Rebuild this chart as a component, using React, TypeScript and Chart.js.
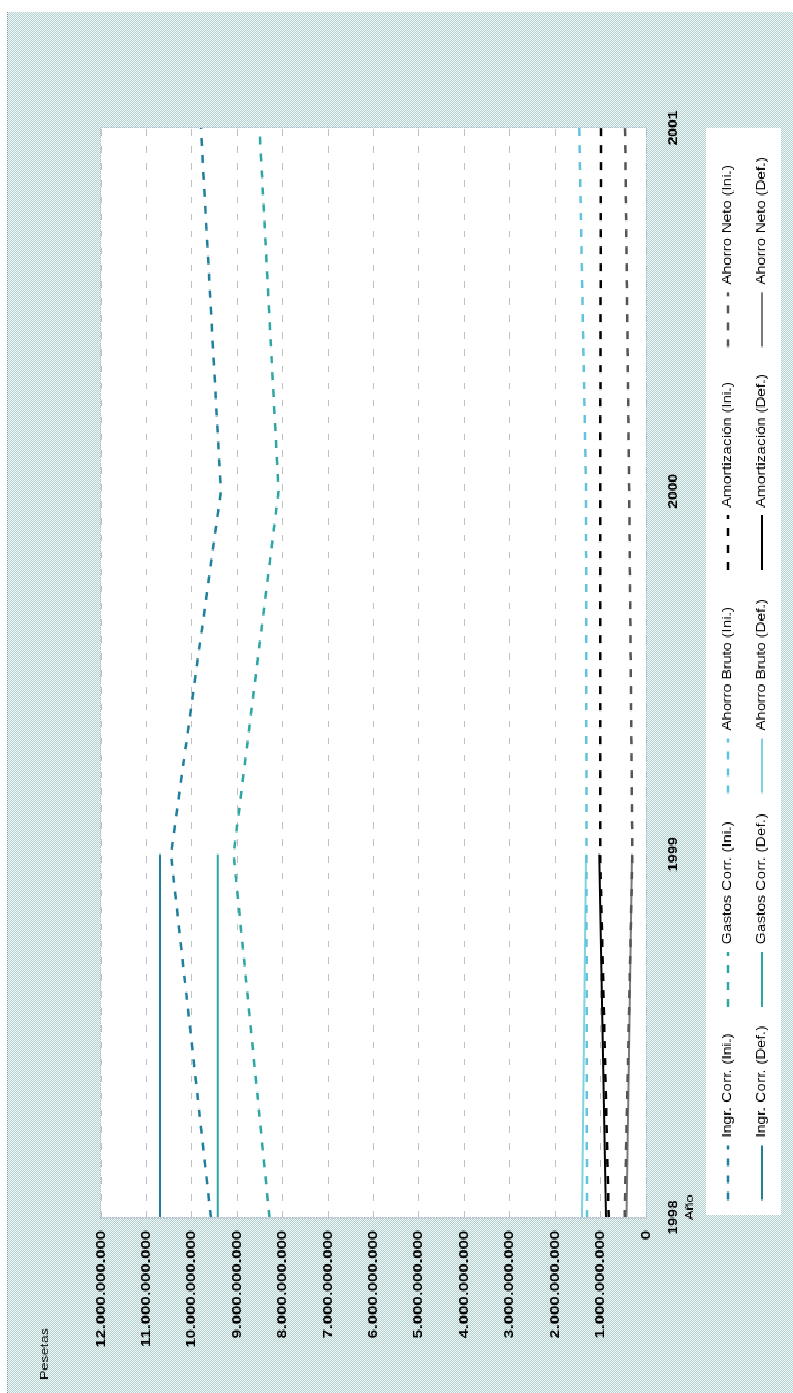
import React, { useEffect, useRef } from 'react';
import { Chart, registerables } from 'chart.js';

Chart.register(...registerables);

// ---------------- data ----------------
const years = ['1998', '1999', '2000', '2001'];

const ingrCorrIni = [9580000000, 10460000000, 9360000000, 9800000000];
const gastosCorrIni = [8290000000, 9080000000, 8090000000, 8510000000];
const ahorroBrutoIni = [1300000000, 1310000000, 1320000000, 1470000000];
const amortizacionIni = [820000000, 1010000000, 1010000000, 990000000];
const ahorroNetoIni = [470000000, 300000000, 370000000, 460000000];

const ingrCorrDef = [10700000000, 10700000000, null, null];
const gastosCorrDef = [9430000000, 9430000000, null, null];
const ahorroBrutoDef = [1410000000, 1320000000, null, null];
const amortizacionDef = [880000000, 1030000000, null, null];
const ahorroNetoDef = [430000000, 310000000, null, null];

const labelsIni = ['Ingr. Corr. (Ini.)', 'Gastos Corr. (Ini.)', 'Ahorro Bruto (Ini.)', 'Amortización (Ini.)', 'Ahorro Neto (Ini.)'];
const labelsDef = ['Ingr. Corr. (Def.)', 'Gastos Corr. (Def.)', 'Ahorro Bruto (Def.)', 'Amortización (Def.)', 'Ahorro Neto (Def.)'];

const yMin = 0;
const yMax = 12000000000;
const yStep = 1000000000;

const yTitle = 'Pesetas';
const xTitle = 'Año';

// ---------------- style ----------------
const colorsIni = ['#1f7f9c', '#2ea6a6', '#62c4dc', '#000000', '#555555'];
const colorsDef = ['#1f7f9c', '#2ea6a6', '#7fd3e0', '#000000', '#7a7a7a'];

const K = 1.3; // horizontal stretch of the original picture
const FRAME_W = 786; // screen width of frame (original chart height)
const FRAME_H = 1381; // screen height of frame (original chart width)
const CW = Math.round(FRAME_H / K);
const CH = FRAME_W;
const FONT = '"Liberation Sans", Arial, sans-serif';
const DASH = [6, 7];
const legendCols = [13.5, 162, 326.5, 498, 669.6];

const HATCH =
  "url(\"data:image/svg+xml,%3Csvg xmlns='http://www.w3.org/2000/svg' width='2' height='2' shape-rendering='crispEdges'%3E%3Crect width='2' height='2' fill='%23dcffff'/%3E%3Crect width='1' height='1' fill='%23c8c8c8'/%3E%3Crect x='1' y='1' width='1' height='1' fill='%23c8c8c8'/%3E%3C/svg%3E\")";

const fmt = (v: number) => String(Math.round(v)).replace(/\B(?=(\d{3})+(?!\d))/g, '.');

const decorPlugin = {
  id: 'decor',
  beforeDraw(chart: any) {
    const { ctx, chartArea: a } = chart;
    ctx.save();
    ctx.fillStyle = '#ffffff';
    ctx.fillRect(a.left, a.top, a.right - a.left, a.bottom - a.top);
    ctx.fillRect(a.left + 2, a.bottom + 60, a.right - a.left - 2, 75);
    ctx.restore();
  },
  afterDraw(chart: any) {
    const { ctx, chartArea: a } = chart;
    ctx.save();
    // dotted frame of plot area
    ctx.strokeStyle = '#a8a8c8';
    ctx.lineWidth = 1;
    ctx.setLineDash([1, 2]);
    ctx.strokeRect(a.left - 0.5, a.top - 0.5, a.right - a.left + 1, a.bottom - a.top + 1);
    // legend
    const ds = chart.data.datasets;
    ctx.font = `12px ${FONT}`;
    ctx.textBaseline = 'middle';
    ctx.textAlign = 'left';
    for (let i = 0; i < ds.length; i++) {
      const col = i % 5;
      const row = Math.floor(i / 5);
      const x = a.left + legendCols[col];
      const y = a.bottom + 82 + row * 34;
      ctx.strokeStyle = ds[i].borderColor;
      ctx.lineWidth = ds[i].borderWidth;
      ctx.setLineDash(ds[i].borderDash || []);
      ctx.beginPath();
      ctx.moveTo(x, y);
      ctx.lineTo(x + 42, y);
      ctx.stroke();
      ctx.fillStyle = '#000';
      ctx.fillText(ds[i].label, x + 48, y);
    }
    ctx.setLineDash([]);
    ctx.fillStyle = '#000';
    ctx.font = `11px ${FONT}`;
    ctx.textBaseline = 'middle';
    ctx.fillText(yTitle, 10, 38);
    ctx.fillText(xTitle, a.left - 2, a.bottom + 44);
    ctx.restore();
  },
};

export default function App() {
  const ref = useRef<HTMLCanvasElement | null>(null);

  useEffect(() => {
    if (!ref.current) return;
    const iniSets = [ingrCorrIni, gastosCorrIni, ahorroBrutoIni, amortizacionIni, ahorroNetoIni];
    const defSets = [ingrCorrDef, gastosCorrDef, ahorroBrutoDef, amortizacionDef, ahorroNetoDef];
    const datasets: any[] = [];
    iniSets.forEach((d, i) =>
      datasets.push({
        label: labelsIni[i],
        data: d,
        borderColor: colorsIni[i],
        backgroundColor: colorsIni[i],
        borderWidth: 2.5,
        borderDash: DASH,
        pointRadius: 0,
        fill: false,
      })
    );
    defSets.forEach((d, i) =>
      datasets.push({
        label: labelsDef[i],
        data: d,
        borderColor: colorsDef[i],
        backgroundColor: colorsDef[i],
        borderWidth: 2,
        pointRadius: 0,
        fill: false,
      })
    );

    const chart = new Chart(ref.current, {
      type: 'line',
      data: { labels: years, datasets },
      options: {
        responsive: false,
        animation: false,
        devicePixelRatio: 1,
        layout: { padding: { left: 10, right: 89, top: 94, bottom: 107 } },
        elements: { line: { tension: 0 }, point: { radius: 0 } },
        plugins: { legend: { display: false }, tooltip: { enabled: false }, title: { display: false } },
        scales: {
          x: {
            type: 'category',
            offset: false,
            grid: { display: false, drawTicks: false },
            border: { display: false },
            ticks: {
              padding: 20,
              autoSkip: false,
              maxRotation: 0,
              color: '#000',
              font: { family: FONT, size: 12, weight: 'bold' },
            },
            afterFit: (s: any) => {
              s.height = 40;
            },
          },
          y: {
            min: yMin,
            max: yMax,
            grid: { color: '#c0c0c0', lineWidth: 1, drawTicks: false },
            border: { display: false, dash: [5, 8] },
            ticks: {
              stepSize: yStep,
              padding: 10,
              color: '#000',
              font: { family: FONT, size: 13, weight: 'bold' },
              callback: (v: any) => fmt(Number(v)),
            },
            afterFit: (s: any) => {
              s.width = 125;
            },
          },
        },
      } as any,
      plugins: [decorPlugin],
    });
    return () => chart.destroy();
  }, []);

  return (
    <div
      style={{
        position: 'fixed',
        left: 7,
        top: 12,
        width: FRAME_W,
        height: FRAME_H,
        overflow: 'hidden',
        backgroundColor: '#d2eeee',
        backgroundImage: HATCH,
        backgroundSize: '2px 2px',
        imageRendering: 'pixelated',
      }}
    >
      <div style={{ position: 'absolute', left: 0, top: 0, width: 1, height: FRAME_H, borderLeft: '1px dotted #888' }} />
      <div
        style={{
          position: 'absolute',
          left: 0,
          top: 0,
          width: CW,
          height: CH,
          transformOrigin: '0 0',
          transform: `translate(0px, ${FRAME_H}px) rotate(-90deg) scaleX(${K})`,
        }}
      >
        <canvas ref={ref} width={CW} height={CH} style={{ display: 'block' }} />
      </div>
    </div>
  );
}
